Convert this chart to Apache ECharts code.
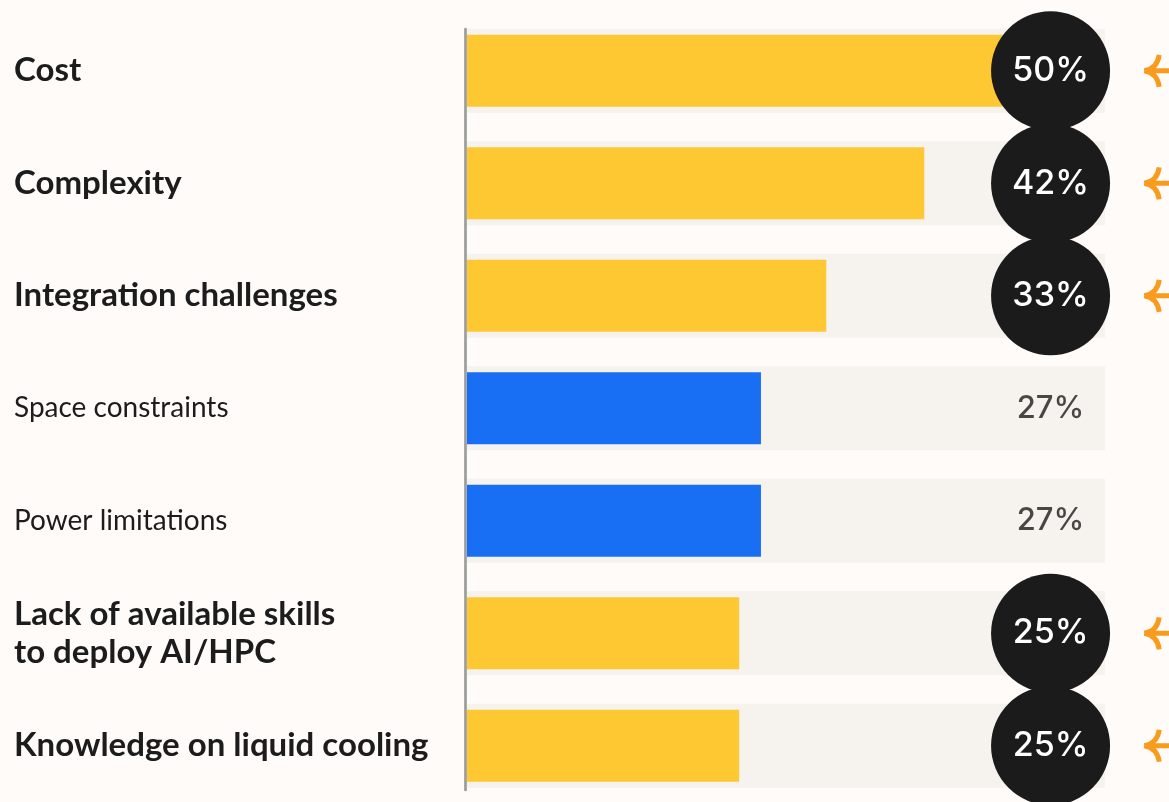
<!DOCTYPE html>
<html>
<head>
<meta charset="utf-8">
<script src="https://cdn.jsdelivr.net/npm/echarts@6/dist/echarts.min.js"></script>
<style>
  html, body { margin: 0; padding: 0; background: #fefbf8; }
  #figure0 { width: 1169px; height: 802px; }
</style>
</head>
<body>
<div id="figure0"></div>
<script>
// data
var categories = ['Cost', 'Complexity', 'Integration challenges', 'Space constraints',
    'Power limitations', 'Lack of available skills\nto deploy AI/HPC', 'Knowledge on liquid cooling'];
var values = [50, 42, 33, 27, 27, 25, 25];
var highlighted = [true, true, true, false, false, true, true];

var TRACK_MAX = 58.6;   // length of the light grey track
var LABEL_X = 53.6;     // column where the percentages sit
var ARROW_X = 62.2;     // column of the orange arrows

var YELLOW = '#fec833', BLUE = '#186ff3', DARK = '#1b1b1b', ORANGE = '#f99c1e';

var figure0 = echarts.init(document.getElementById('figure0'));

var trackData = categories.map(function () { return TRACK_MAX; });
var barData = values.map(function (v, i) {
    return {value: v, itemStyle: {color: highlighted[i] ? YELLOW : BLUE}};
});
var circleData = [], plainData = [], arrowData = [];
values.forEach(function (v, i) {
    if (highlighted[i]) {
        circleData.push([LABEL_X, i, v]);
        arrowData.push([ARROW_X, i]);
    } else {
        plainData.push([LABEL_X, i, v]);
    }
});

var option = {
    backgroundColor: '#fefbf8',
    animation: false,
    grid: [
        {left: 467, width: 638, top: 14.6, height: 789.8},
        {left: 465.7, width: 638, top: 29, height: 761}
    ],
    xAxis: [
        {type: 'value', gridIndex: 0, min: 0, max: TRACK_MAX, show: false},
        {type: 'value', gridIndex: 1, min: 0, max: TRACK_MAX, show: false}
    ],
    yAxis: [
        {
            type: 'category', gridIndex: 0, data: categories, inverse: true,
            axisLine: {show: false}, axisTick: {show: false},
            axisLabel: {
                align: 'left',
                margin: 453,
                formatter: function (val) {
                    var i = categories.indexOf(val);
                    var key = highlighted[i] ? 'b' : 'r';
                    return val.split('\n').map(function (s) { return '{' + key + '|' + s + '}'; }).join('\n');
                },
                rich: {
                    b: {fontFamily: 'Lato', fontWeight: 'bold', fontSize: 33, color: '#1c1c1c', lineHeight: 38},
                    r: {fontFamily: 'Lato', fontWeight: 'normal', fontSize: 28, color: '#1c1c1c', lineHeight: 38}
                }
            }
        },
        {type: 'category', gridIndex: 0, data: categories, inverse: true, show: false},
        {
            type: 'category', gridIndex: 1, data: categories, inverse: true,
            axisLine: {show: true, lineStyle: {color: '#9c9c9c', width: 2.7}},
            axisTick: {show: false}, axisLabel: {show: false}
        }
    ],
    series: [
        {
            name: 'track', type: 'bar', xAxisIndex: 0, yAxisIndex: 0,
            data: trackData, barWidth: 84, silent: true,
            itemStyle: {color: '#f6f2ee'}
        },
        {
            name: 'share', type: 'bar', xAxisIndex: 0, yAxisIndex: 1,
            data: barData, barWidth: 72
        },
        {
            name: 'circles', type: 'scatter', xAxisIndex: 0, yAxisIndex: 0,
            data: circleData, symbol: 'circle', symbolSize: 119, clip: false, z: 5,
            itemStyle: {color: DARK, opacity: 1},
            label: {
                show: true, position: 'inside', color: '#ffffff',
                fontFamily: 'Inter', fontWeight: 500, fontSize: 34,
                formatter: function (p) { return p.value[2] + '%'; }
            }
        },
        {
            name: 'plain', type: 'scatter', xAxisIndex: 0, yAxisIndex: 0,
            data: plainData, symbolSize: 1, clip: false, z: 5,
            itemStyle: {color: 'rgba(0,0,0,0)'},
            label: {
                show: true, position: 'inside', color: DARK,
                fontFamily: 'Inter', fontWeight: 500, fontSize: 31,
                formatter: function (p) { return p.value[2] + '%'; }
            }
        },
        {
            name: 'arrows', type: 'custom', xAxisIndex: 0, yAxisIndex: 0,
            data: arrowData, clip: false, z: 5,
            renderItem: function (params, api) {
                var pt = api.coord([api.value(0), api.value(1)]);
                return {
                    type: 'path',
                    x: pt[0], y: pt[1],
                    shape: {pathData: 'M0 0 L40 0 M15 -16 Q13 -2 0 0 M15 16 Q13 2 0 0'},
                    style: {fill: 'none', stroke: ORANGE, lineWidth: 5, lineJoin: 'round'}
                };
            }
        }
    ]
};
figure0.setOption(option);
</script>
</body>
</html>
